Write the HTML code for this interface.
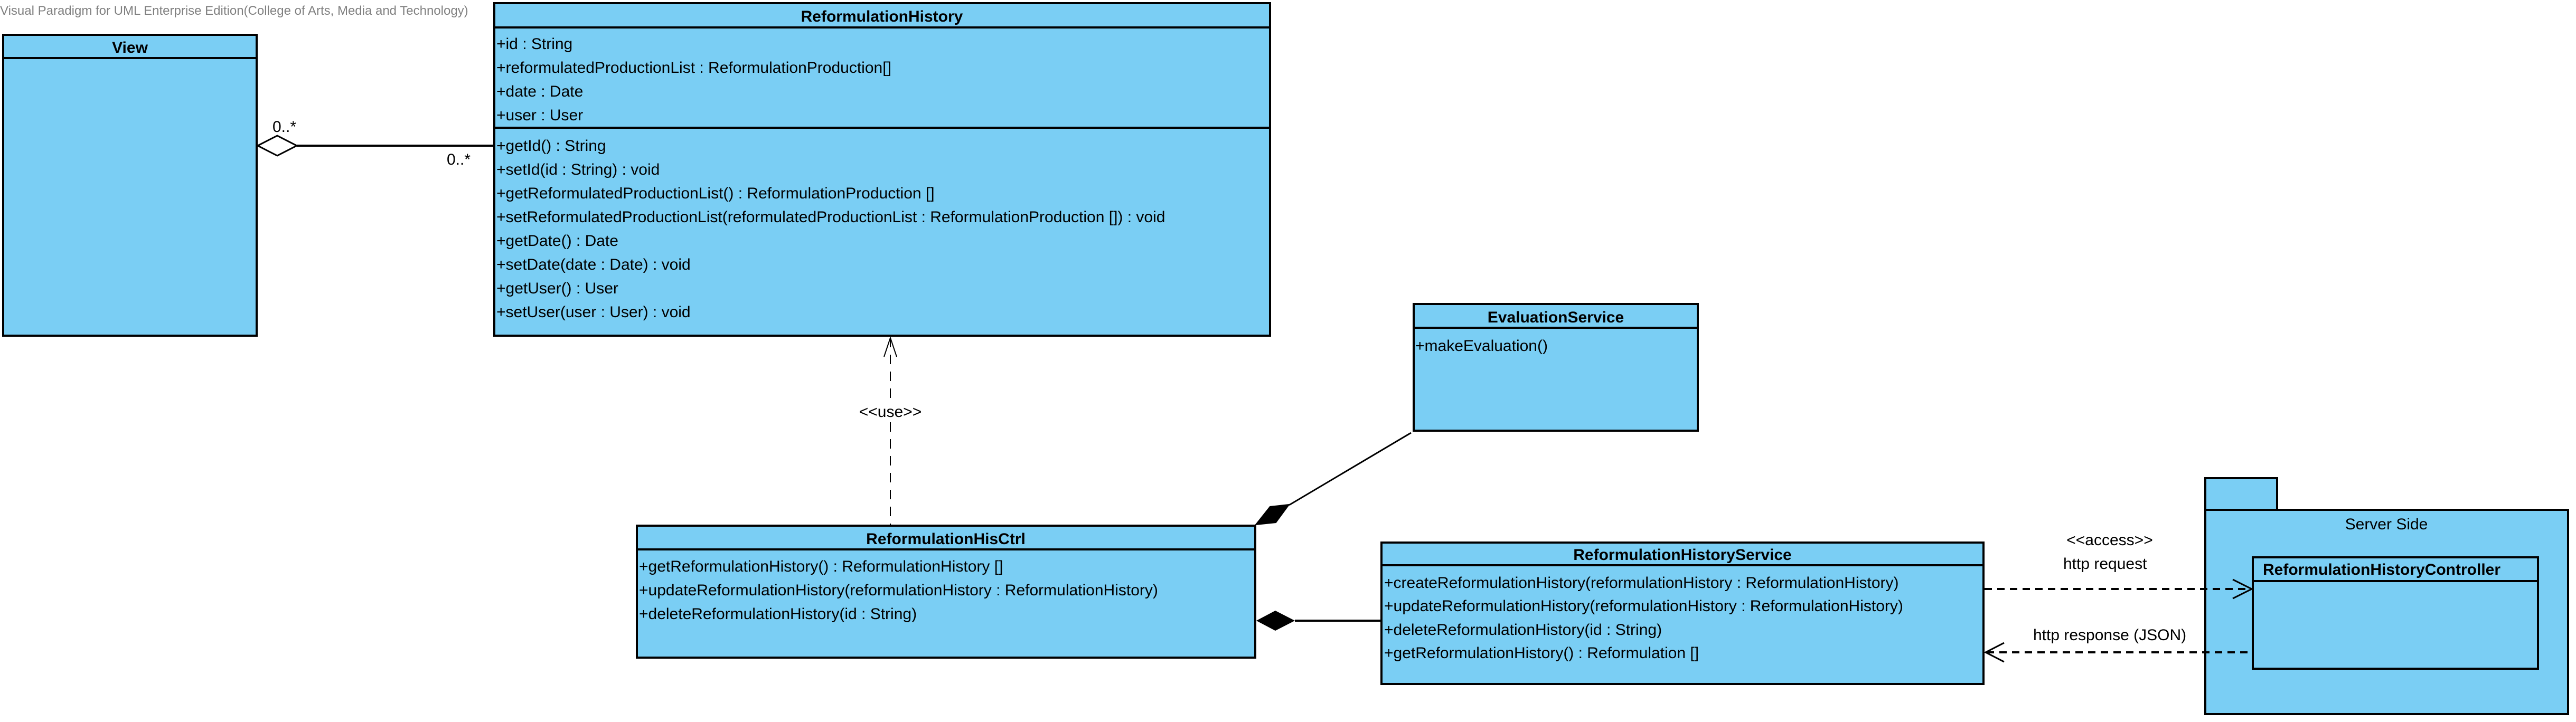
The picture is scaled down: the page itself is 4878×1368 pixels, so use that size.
<!DOCTYPE html>
<html><head><meta charset="utf-8"><style>
html,body{margin:0;padding:0;background:#fff;}
svg{display:block;}
text{font-family:"Liberation Sans",Arial,sans-serif;font-size:30px;fill:#000;}
.b{font-weight:bold;}
</style></head><body>
<svg width="4878" height="1368" viewBox="0 0 4878 1368" xmlns="http://www.w3.org/2000/svg">
<text x="0" y="28" style="font-size:24px;fill:#808080">Visual Paradigm for UML Enterprise Edition(College of Arts, Media and Technology)</text>

<g stroke="#000" stroke-width="4" fill="#7ACEF4">
<rect x="6" y="66" width="480" height="570"/>
<line x1="6" y1="110" x2="486" y2="110"/>
<rect x="936" y="6" width="1469" height="630"/>
<line x1="936" y1="52" x2="2405" y2="52"/>
<line x1="936" y1="242" x2="2405" y2="242"/>
<rect x="2677" y="576" width="538" height="240"/>
<line x1="2677" y1="621" x2="3215" y2="621"/>
<rect x="1206" y="996" width="1171" height="250"/>
<line x1="1206" y1="1041" x2="2377" y2="1041"/>
<rect x="2616" y="1028" width="1140" height="268"/>
<line x1="2616" y1="1071" x2="3756" y2="1071"/>
<rect x="4176" y="906" width="136" height="60"/>
<rect x="4176" y="966" width="687" height="387"/>
<rect x="4266" y="1056" width="540" height="211"/>
<line x1="4266" y1="1101" x2="4806" y2="1101"/>
</g>

<text class="b" x="246" y="100" text-anchor="middle">View</text>
<text class="b" x="1670" y="41" text-anchor="middle">ReformulationHistory</text>
<g>
<text x="940" y="93">+id : String</text>
<text x="940" y="138">+reformulatedProductionList : ReformulationProduction[]</text>
<text x="940" y="183">+date : Date</text>
<text x="940" y="228">+user : User</text>
<text x="940" y="286">+getId() : String</text>
<text x="940" y="331">+setId(id : String) : void</text>
<text x="940" y="376">+getReformulatedProductionList() : ReformulationProduction []</text>
<text x="940" y="421">+setReformulatedProductionList(reformulatedProductionList : ReformulationProduction []) : void</text>
<text x="940" y="466">+getDate() : Date</text>
<text x="940" y="511">+setDate(date : Date) : void</text>
<text x="940" y="556">+getUser() : User</text>
<text x="940" y="601">+setUser(user : User) : void</text>
</g>
<text class="b" x="2946" y="611" text-anchor="middle">EvaluationService</text>
<text x="2680" y="665">+makeEvaluation()</text>

<text class="b" x="1791" y="1031" text-anchor="middle">ReformulationHisCtrl</text>
<text x="1210" y="1083">+getReformulationHistory() : ReformulationHistory []</text>
<text x="1210" y="1128">+updateReformulationHistory(reformulationHistory : ReformulationHistory)</text>
<text x="1210" y="1173">+deleteReformulationHistory(id : String)</text>

<text class="b" x="3186" y="1061" text-anchor="middle">ReformulationHistoryService</text>
<text x="2621" y="1114">+createReformulationHistory(reformulationHistory : ReformulationHistory)</text>
<text x="2621" y="1158">+updateReformulationHistory(reformulationHistory : ReformulationHistory)</text>
<text x="2621" y="1203">+deleteReformulationHistory(id : String)</text>
<text x="2621" y="1247">+getReformulationHistory() : Reformulation []</text>

<text x="4519" y="1003" text-anchor="middle">Server Side</text>
<text class="b" x="4285" y="1089">ReformulationHistoryController</text>

<line x1="562" y1="276" x2="936" y2="276" stroke="#000" stroke-width="4"/>
<polygon points="488,276 525,257 562,276 525,295" fill="#fff" stroke="#000" stroke-width="3"/>
<text x="516" y="250">0..*</text>
<text x="846" y="312">0..*</text>

<line x1="1686" y1="640" x2="1686" y2="994" stroke="#000" stroke-width="2" stroke-dasharray="18,14"/>
<polyline points="1674,676 1686,640 1698,676" fill="none" stroke="#000" stroke-width="2"/>
<rect x="1620" y="762" width="132" height="34" fill="#fff"/>
<text x="1686" y="790" text-anchor="middle">&lt;&lt;use&gt;&gt;</text>

<line x1="2672" y1="820" x2="2441" y2="957" stroke="#000" stroke-width="3"/>
<polygon points="2378,994 2405,960 2441,956 2416,990" fill="#000" stroke="#000" stroke-width="2"/>

<line x1="2452" y1="1176" x2="2616" y2="1176" stroke="#000" stroke-width="4"/>
<polygon points="2379,1176 2415,1157 2452,1176 2415,1195" fill="#000"/>

<line x1="3758" y1="1116" x2="4262" y2="1116" stroke="#000" stroke-width="4" stroke-dasharray="14,10"/>
<polyline points="4228,1098 4264,1116 4228,1134" fill="none" stroke="#000" stroke-width="3"/>
<text x="3995" y="1033" text-anchor="middle">&lt;&lt;access&gt;&gt;</text>
<text x="3907" y="1078">http request</text>
<line x1="3762" y1="1236" x2="4266" y2="1236" stroke="#000" stroke-width="4" stroke-dasharray="14,10"/>
<polyline points="3795,1218 3760,1236 3795,1254" fill="none" stroke="#000" stroke-width="3"/>
<text x="3850" y="1213">http response (JSON)</text>
</svg>
</body></html>
